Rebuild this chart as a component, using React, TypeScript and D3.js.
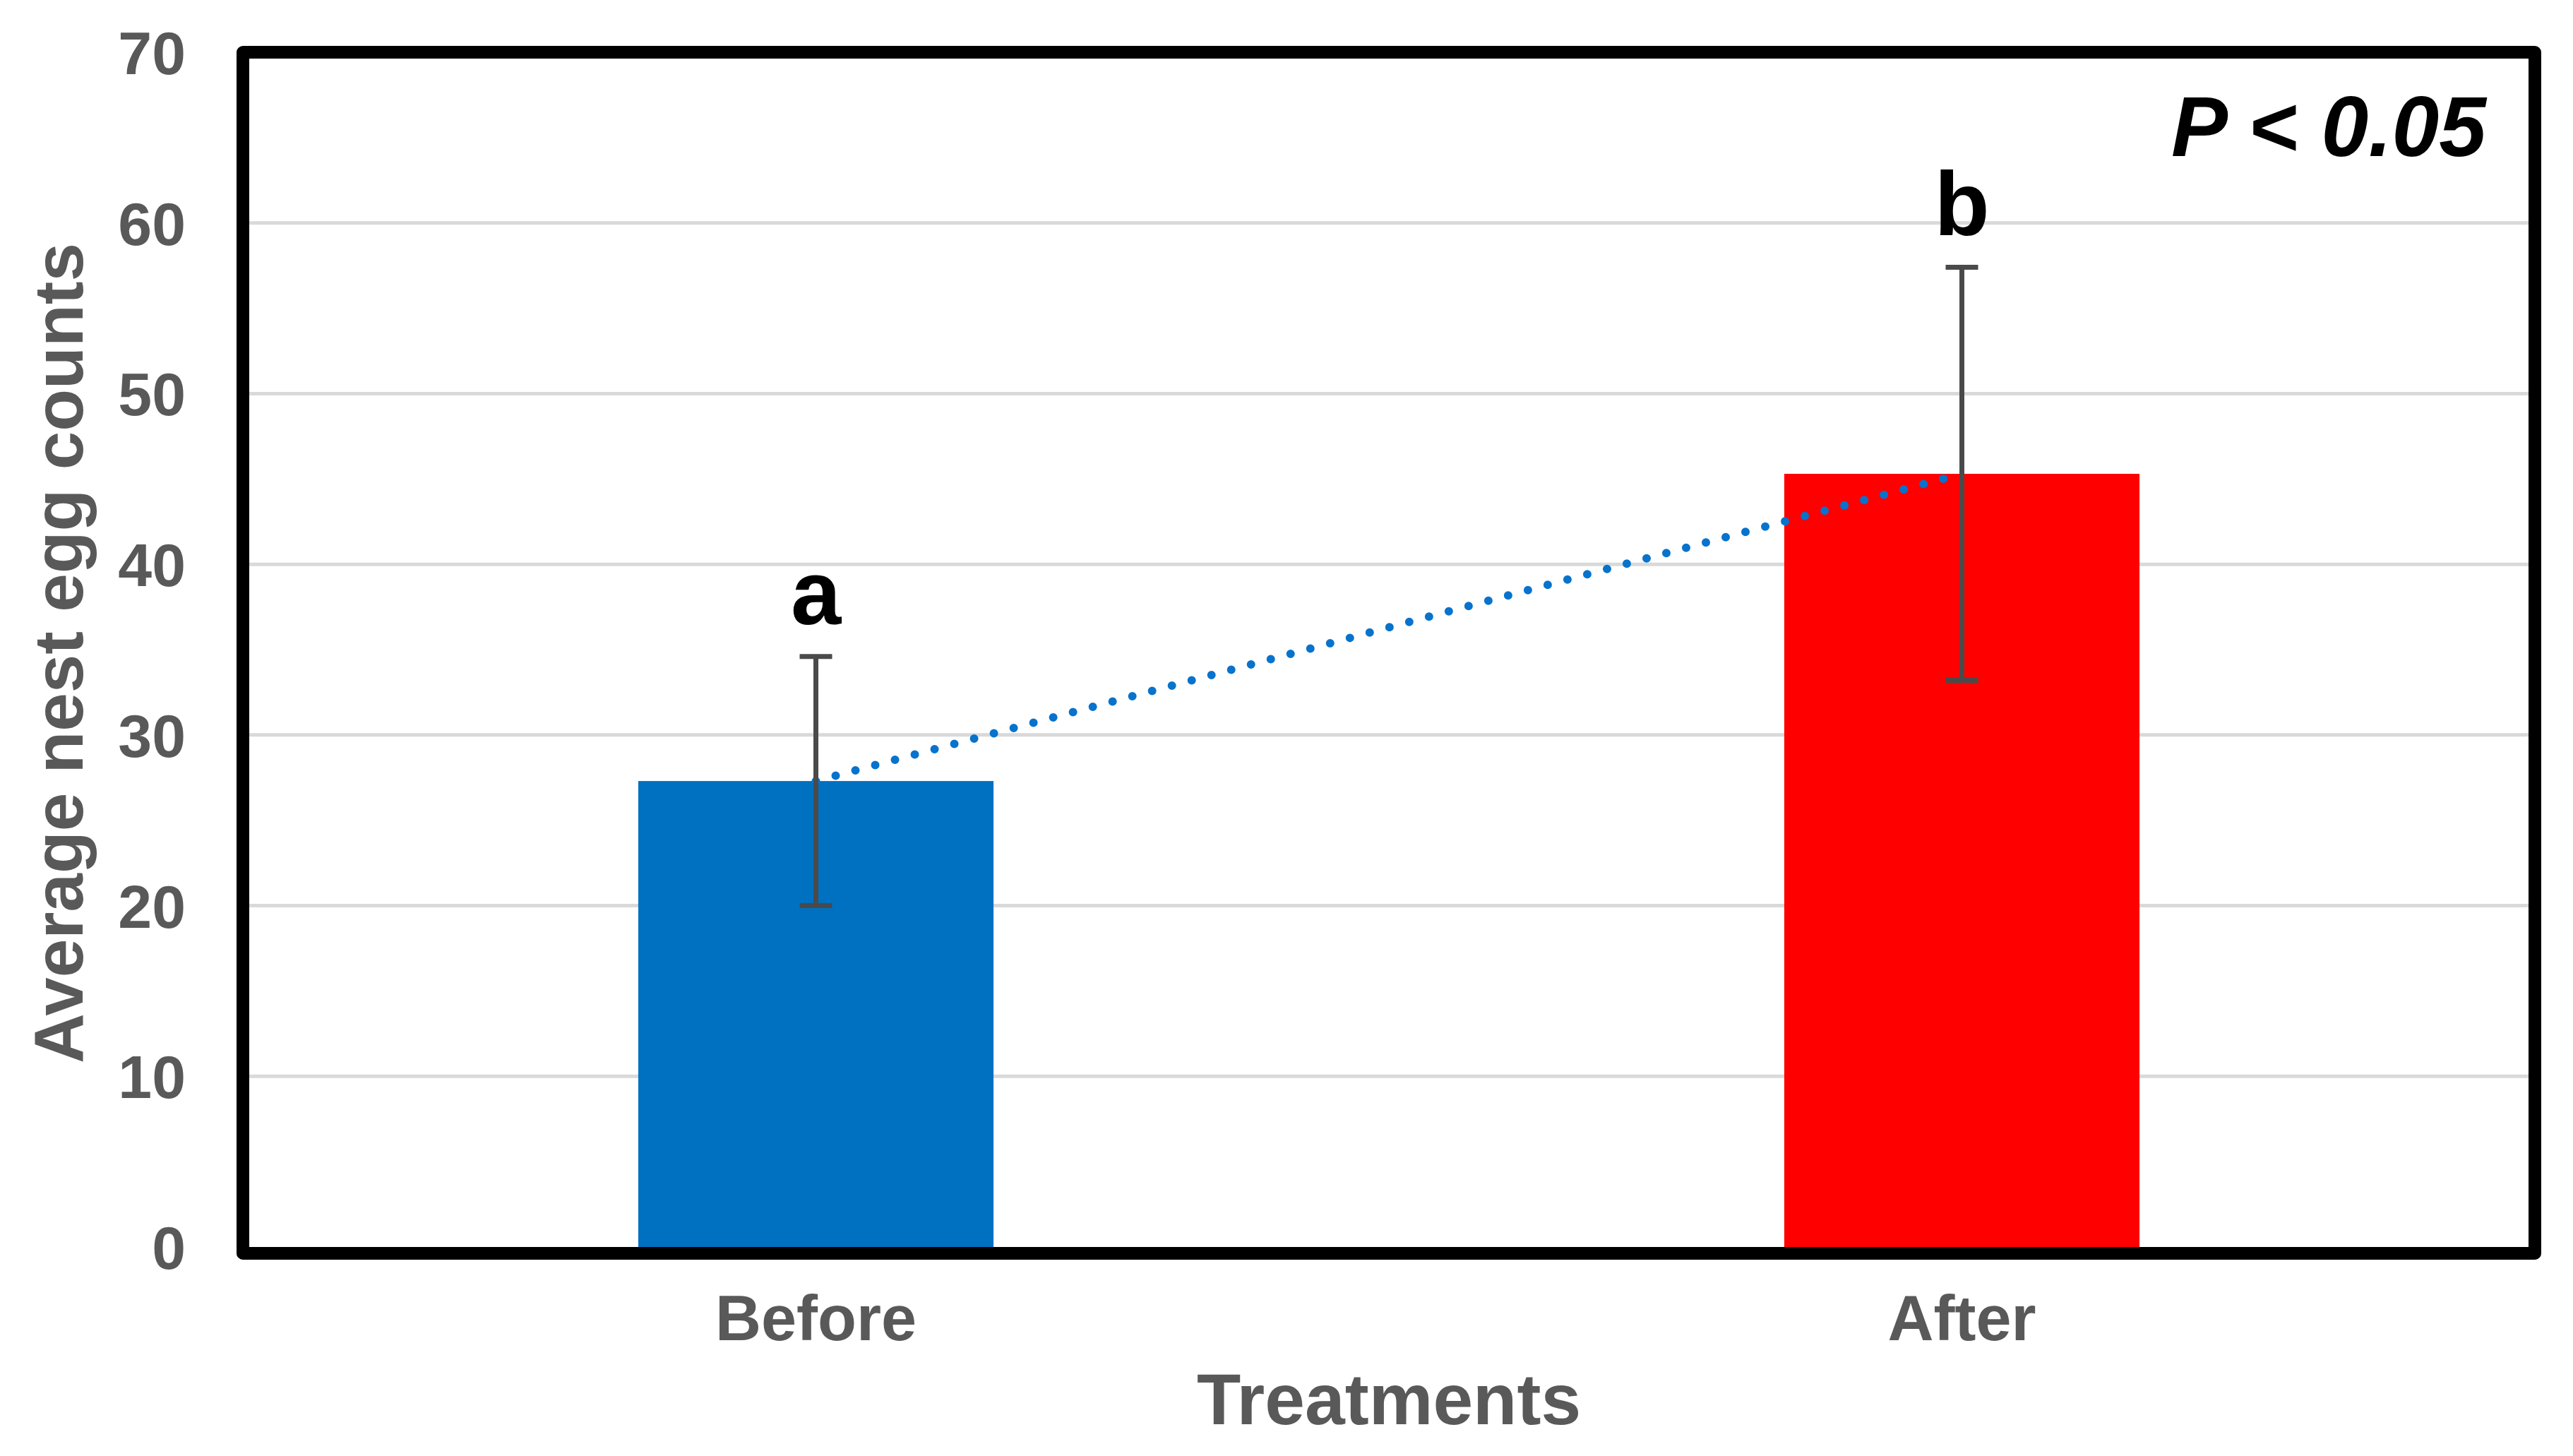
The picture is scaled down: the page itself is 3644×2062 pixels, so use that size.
import React from "react";
import * as d3 from "d3";

const categories = ["Before", "After"];
const means = [27.3, 45.3];
const errors = [7.3, 12.1];
const letters = ["a", "b"];
const barColors = ["#0070C0", "#FF0000"];
const yTicks = [0, 10, 20, 30, 40, 50, 60, 70];

const W = 3644;
const H = 2062;
const m = { left: 344, right: W - 3590, top: 74, bottom: H - 1766 };
const font = "'Liberation Sans', Arial, sans-serif";

export default function App() {
  const x = d3
    .scaleBand<string>()
    .domain(categories)
    .range([m.left, W - m.right])
    .paddingInner(0.69)
    .paddingOuter(0.345);
  const y = d3.scaleLinear().domain([0, 70]).range([H - m.bottom, m.top]);

  const cx = (c: string) => (x(c) as number) + x.bandwidth() / 2;
  const line = d3
    .line<number>()
    .x((_, i) => cx(categories[i]))
    .y((d) => y(d));

  const frameStroke = 18;

  return (
    <svg
      width={W}
      height={H}
      style={{ position: "absolute", left: 0, top: 0, background: "#fff" }}
      fontFamily={font}
    >
      {/* gridlines */}
      <g>
        {yTicks.slice(1, -1).map((t) => (
          <line key={t} x1={m.left} x2={W - m.right} y1={y(t)} y2={y(t)} stroke="#d9d9d9" strokeWidth={5} />
        ))}
      </g>

      {/* bars */}
      {categories.map((c, i) => (
        <rect
          key={c}
          x={x(c)}
          y={y(means[i])}
          width={x.bandwidth()}
          height={y(0) - y(means[i])}
          fill={barColors[i]}
        />
      ))}

      {/* dotted trend between bar tops */}
      <path
        d={line(means) as string}
        fill="none"
        stroke="#0773CC"
        strokeWidth={12}
        strokeLinecap="round"
        strokeDasharray="0 29"
      />

      {/* error bars */}
      {categories.map((c, i) => {
        const hi = y(means[i] + errors[i]);
        const lo = y(means[i] - errors[i]);
        const px = cx(c);
        return (
          <g key={c} stroke="#4a4a4a" strokeWidth={7}>
            <line x1={px} x2={px} y1={hi} y2={lo} />
            <line x1={px - 23} x2={px + 23} y1={hi} y2={hi} />
            <line x1={px - 23} x2={px + 23} y1={lo} y2={lo} />
          </g>
        );
      })}

      {/* significance letters */}
      {categories.map((c, i) => (
        <text
          key={c}
          x={cx(c)}
          y={y(means[i] + errors[i]) - 46}
          textAnchor="middle"
          fontSize={128}
          fontWeight="bold"
          fill="#000"
        >
          {letters[i]}
        </text>
      ))}

      {/* frame */}
      <rect
        x={m.left}
        y={y(70)}
        width={W - m.right - m.left}
        height={y(0) - y(70) + frameStroke / 2}
        fill="none"
        stroke="#000"
        strokeWidth={frameStroke}
        strokeLinejoin="round"
      />

      {/* y tick labels */}
      {yTicks.map((t) => (
        <text
          key={t}
          x={263}
          y={y(t)}
          dy="0.36em"
          textAnchor="end"
          fontSize={86}
          fontWeight="bold"
          fill="#595959"
        >
          {t}
        </text>
      ))}

      {/* category labels */}
      {categories.map((c) => (
        <text
          key={c}
          x={cx(c)}
          y={1866}
          dy="0.36em"
          textAnchor="middle"
          fontSize={90}
          fontWeight="bold"
          fill="#595959"
        >
          {c}
        </text>
      ))}

      <text
        x={(m.left + W - m.right) / 2}
        y={2017}
        textAnchor="middle"
        fontSize={102}
        fontWeight="bold"
        fill="#595959"
      >
        Treatments
      </text>

      <text
        transform={`translate(117, ${925}) rotate(-90)`}
        textAnchor="middle"
        fontSize={98}
        fontWeight="bold"
        fill="#595959"
      >
        Average nest egg counts
      </text>

      <text
        x={3521}
        y={221}
        textAnchor="end"
        fontSize={120}
        fontWeight="bold"
        fontStyle="italic"
        fill="#000"
      >
        P &lt; 0.05
      </text>
    </svg>
  );
}
